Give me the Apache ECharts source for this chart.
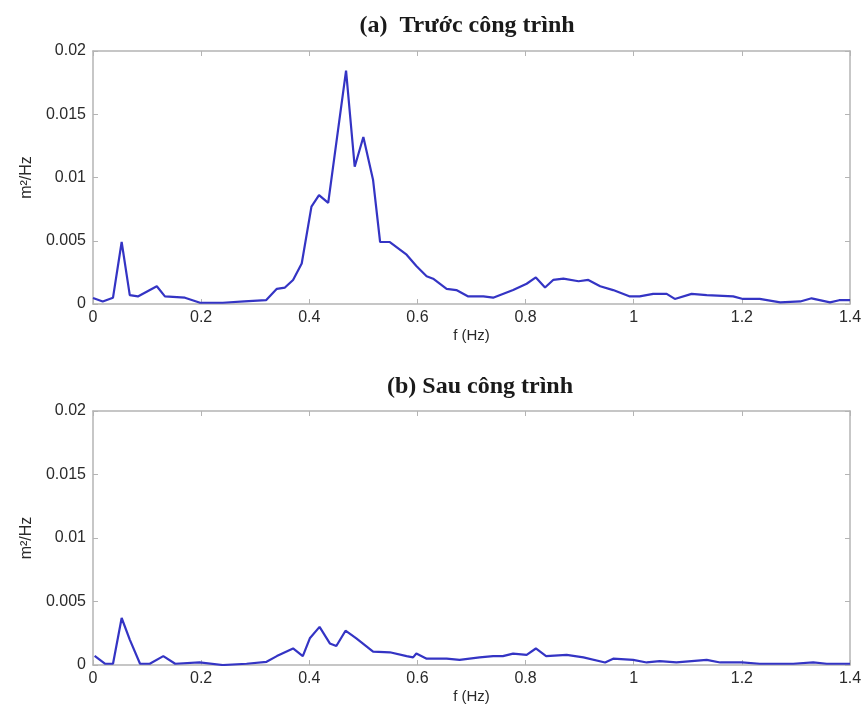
<!DOCTYPE html>
<html>
<head>
<meta charset="utf-8">
<script src="https://cdn.jsdelivr.net/npm/echarts@6/dist/echarts.min.js"></script>
<style>
  html, body { margin: 0; padding: 0; background: #fff; }
  #chart { width: 867px; height: 709px; }
</style>
</head>
<body>
<div id="chart"></div>
<script>
// Spectral density (m²/Hz) against frequency (Hz), before and after the works
const titles = ['(a)  Trước công trình', '(b) Sau công trình'];
const xTicks = [0, 0.2, 0.4, 0.6, 0.8, 1, 1.2, 1.4];
const yTicks = [0, 0.005, 0.01, 0.015, 0.02];

const freqBefore = [0, 0.018, 0.037, 0.053, 0.068, 0.083, 0.118, 0.133, 0.17, 0.198, 0.24, 0.28, 0.32,
  0.34, 0.355, 0.37, 0.386, 0.404, 0.418, 0.435, 0.468, 0.484, 0.5, 0.518, 0.531, 0.549, 0.58, 0.598,
  0.617, 0.629, 0.654, 0.672, 0.694, 0.722, 0.74, 0.777, 0.802, 0.819, 0.836, 0.851, 0.87, 0.898,
  0.916, 0.938, 0.962, 0.993, 1.011, 1.036, 1.061, 1.076, 1.107, 1.135, 1.184, 1.202, 1.233, 1.271,
  1.308, 1.329, 1.363, 1.38, 1.4];
const psdBefore = [0.00047, 0.0002, 0.0005, 0.0049, 0.0007, 0.0006, 0.0014, 0.0006, 0.0005, 0.0001, 0.0001, 0.0002, 0.0003,
  0.0012, 0.0013, 0.0019, 0.0032, 0.0077, 0.0086, 0.0080, 0.01845, 0.01085, 0.0132, 0.0098, 0.0049, 0.0049, 0.0039, 0.0030,
  0.0022, 0.0020, 0.0012, 0.0011, 0.0006, 0.0006, 0.0005, 0.0011, 0.0016, 0.0021, 0.0013, 0.0019, 0.0020, 0.0018,
  0.0019, 0.0014, 0.0011, 0.0006, 0.0006, 0.0008, 0.0008, 0.0004, 0.0008, 0.0007, 0.0006, 0.0004, 0.0004, 0.00013,
  0.0002, 0.00045, 0.00013, 0.0003, 0.0003];

const freqAfter = [0.003, 0.022, 0.037, 0.053, 0.068, 0.087, 0.105, 0.13, 0.152, 0.197, 0.24, 0.284, 0.321,
  0.34, 0.37, 0.388, 0.401, 0.419, 0.438, 0.45, 0.467, 0.487, 0.518, 0.549, 0.58, 0.592, 0.598, 0.617,
  0.654, 0.678, 0.715, 0.74, 0.758, 0.777, 0.802, 0.819, 0.838, 0.876, 0.907, 0.947, 0.962, 0.999,
  1.024, 1.048, 1.079, 1.135, 1.16, 1.2, 1.233, 1.295, 1.332, 1.357, 1.4];
const psdAfter = [0.00071, 0.0001, 0.0001, 0.0037, 0.0020, 0.0001, 0.0001, 0.0007, 0.0001, 0.0002, 0.0, 0.0001, 0.00025,
  0.0007, 0.0013, 0.0007, 0.0021, 0.0030, 0.0017, 0.0015, 0.0027, 0.0021, 0.00105, 0.001, 0.0007, 0.0006, 0.0009, 0.0005,
  0.0005, 0.0004, 0.0006, 0.0007, 0.0007, 0.0009, 0.0008, 0.0013, 0.0007, 0.0008, 0.0006, 0.0002, 0.0005, 0.0004,
  0.0002, 0.0003, 0.0002, 0.0004, 0.0002, 0.0002, 0.0001, 0.0001, 0.0002, 0.0001, 0.0001];

const pairs = (xs, ys) => xs.map((x, i) => [x, ys[i]]);

const boxColor = '#b4b4b4';
const labelColor = '#2a2a2a';
const lineColor = '#3434c4';

const grids = [
  { left: 93, right: 17, top: 51, height: 253 },
  { left: 93, right: 17, top: 411, height: 254 }
];

const xMin = xTicks[0], xMax = xTicks[xTicks.length - 1], xStep = xTicks[1] - xTicks[0];
const yMin = yTicks[0], yMax = yTicks[yTicks.length - 1], yStep = yTicks[1] - yTicks[0];

const xAxes = [];
const yAxes = [];
grids.forEach((g, i) => {
  const common = {
    type: 'value', gridIndex: i,
    axisLine: { show: true, onZero: false, lineStyle: { color: boxColor, width: 1.5 } },
    axisTick: { show: true, inside: true, length: 5, lineStyle: { color: boxColor } },
    splitLine: { show: false }
  };
  xAxes.push(Object.assign({}, common, {
    position: 'bottom', min: xMin, max: xMax, interval: xStep,
    axisLabel: { color: labelColor, fontSize: 16, fontFamily: 'Liberation Sans', margin: 6 },
    name: 'f (Hz)', nameLocation: 'middle', nameGap: 24,
    nameTextStyle: { color: labelColor, fontSize: 15, fontFamily: 'Liberation Sans' }
  }));
  xAxes.push(Object.assign({}, common, {
    position: 'top', min: xMin, max: xMax, interval: xStep,
    axisLabel: { show: false }
  }));
  yAxes.push(Object.assign({}, common, {
    position: 'left', min: yMin, max: yMax, interval: yStep,
    axisLabel: { color: labelColor, fontSize: 16, fontFamily: 'Liberation Sans', margin: 7 },
    name: 'm²/Hz', nameLocation: 'middle', nameGap: 52, nameRotate: 90,
    nameTextStyle: { color: labelColor, fontSize: 16, fontFamily: 'Liberation Sans' }
  }));
  yAxes.push(Object.assign({}, common, {
    position: 'right', min: yMin, max: yMax, interval: yStep,
    axisLabel: { show: false }
  }));
});

const chart = echarts.init(document.getElementById('chart'), null, { renderer: 'canvas' });
chart.setOption({
  animation: false,
  backgroundColor: '#fff',
  title: [
    { text: titles[0], left: 462, top: 9, textAlign: 'center',
      textStyle: { fontFamily: 'Liberation Serif', fontWeight: 'bold', fontSize: 24, color: '#1a1a1a' } },
    { text: titles[1], left: 475, top: 370, textAlign: 'center',
      textStyle: { fontFamily: 'Liberation Serif', fontWeight: 'bold', fontSize: 24, color: '#1a1a1a' } }
  ],
  grid: grids,
  xAxis: xAxes,
  yAxis: yAxes,
  series: [
    { type: 'line', xAxisIndex: 0, yAxisIndex: 0, data: pairs(freqBefore, psdBefore),
      showSymbol: false, lineStyle: { color: lineColor, width: 2.2 }, itemStyle: { color: lineColor } },
    { type: 'line', xAxisIndex: 2, yAxisIndex: 2, data: pairs(freqAfter, psdAfter),
      showSymbol: false, lineStyle: { color: lineColor, width: 2.2 }, itemStyle: { color: lineColor } }
  ]
});
</script>
</body>
</html>
